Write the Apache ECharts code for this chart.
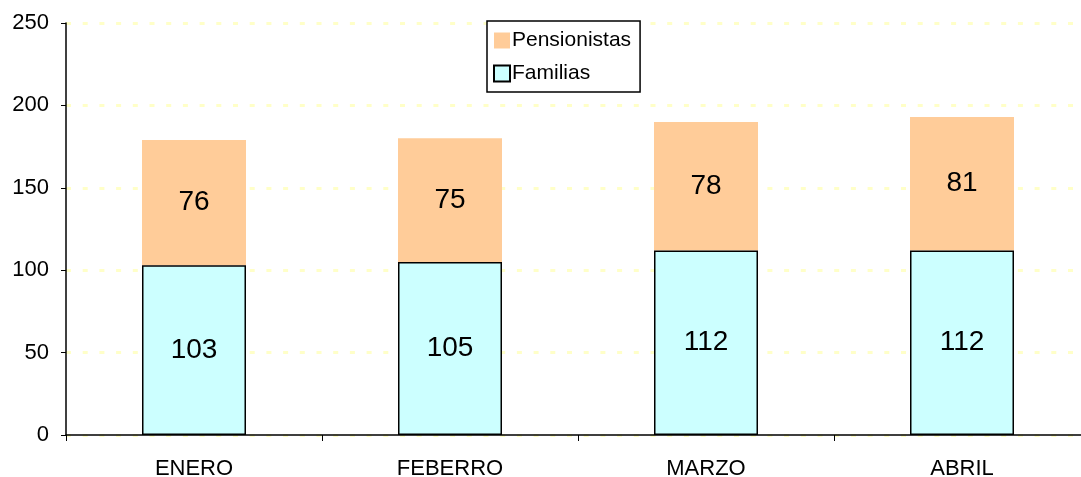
<!DOCTYPE html>
<html>
<head>
<meta charset="utf-8">
<script src="https://cdn.jsdelivr.net/npm/echarts@6/dist/echarts.min.js"></script>
<style>
  html, body { margin: 0; padding: 0; background: #fff; }
  #chart { width: 1081px; height: 477px; }
</style>
</head>
<body>
<div id="chart"></div>
<script>
const months = ['ENERO', 'FEBERRO', 'MARZO', 'ABRIL'];
const familias = [103, 105, 112, 112];
const pensionistas = [76, 75, 78, 81];
const yTicks = { min: 0, max: 250, interval: 50 };

const font = 'Liberation Sans, Arial, sans-serif';
const chart = echarts.init(document.getElementById('chart'));

chart.setOption({
    animation: false,
    textStyle: { fontFamily: font },
    grid: { left: 66, top: 23, right: -9, bottom: 42, outerBoundsMode: 'none', containLabel: false },
    legend: {
        orient: 'vertical',
        left: 487,
        top: 21,
        data: ['Pensionistas', 'Familias'],
        icon: 'rect',
        itemWidth: 16,
        itemHeight: 16,
        itemGap: 12,
        padding: [9, 9, 8, 6],
        borderColor: '#000',
        borderWidth: 1.5,
        backgroundColor: '#fff',
        textStyle: { fontSize: 21, color: '#000', padding: [0, 0, 0, -3] }
    },
    xAxis: {
        type: 'category',
        data: months,
        axisLine: { lineStyle: { color: '#000', width: 1.5 } },
        axisTick: { show: true, length: 6, lineStyle: { color: '#000' } },
        axisLabel: { fontSize: 22, color: '#000', margin: 23 }
    },
    yAxis: {
        type: 'value',
        min: yTicks.min,
        max: yTicks.max,
        interval: yTicks.interval,
        axisLine: { show: true, lineStyle: { color: '#000', width: 1.5 } },
        axisTick: { show: true, length: 5, lineStyle: { color: '#000' } },
        axisLabel: { fontSize: 22, color: '#000', margin: 17 },
        splitLine: {
            show: true,
            lineStyle: { color: '#FFFFC8', width: 3, type: [5, 11.7] }
        }
    },
    series: [
        {
            name: 'Familias',
            type: 'bar',
            stack: 'total',
            data: familias,
            barWidth: 104,
            itemStyle: { color: '#CCFFFF', borderColor: '#000', borderWidth: 1.5 },
            label: { show: true, position: 'inside', fontSize: 28, color: '#000' },
            z: 3
        },
        {
            name: 'Pensionistas',
            type: 'bar',
            stack: 'total',
            data: pensionistas,
            barWidth: 104,
            itemStyle: { color: '#FFCC99' },
            label: { show: true, position: 'inside', fontSize: 28, color: '#000' },
            z: 2
        }
    ]
});
</script>
</body>
</html>
